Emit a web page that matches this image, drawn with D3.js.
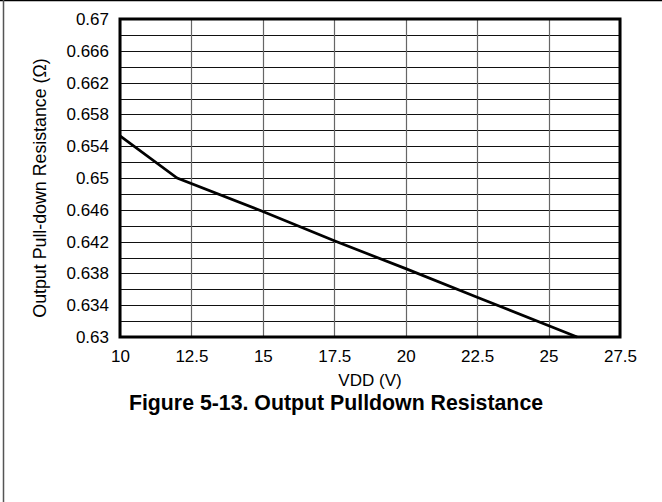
<!DOCTYPE html>
<html>
<head>
<meta charset="utf-8">
<script src="https://cdn.jsdelivr.net/npm/d3@7"></script>
<style>
  body { margin: 0; background: #fff; }
  svg { display: block; font-family: "Liberation Sans", Arial, sans-serif; }
</style>
</head>
<body>
<svg id="chart" width="662" height="502"></svg>
<script>
// Data
const vdd = [10, 12, 15, 17.5, 20, 22.5, 26];
const resistance = [0.6553, 0.65, 0.6458, 0.6421, 0.6386, 0.635, 0.63];
const xTicks = [10, 12.5, 15, 17.5, 20, 22.5, 25, 27.5];
const yTicks = [0.63, 0.634, 0.638, 0.642, 0.646, 0.65, 0.654, 0.658, 0.662, 0.666, 0.67];

const svg = d3.select('#chart');
const m = { left: 120, top: 19, right: 620, bottom: 337 };

const x = d3.scaleLinear().domain([10, 27.5]).range([m.left, m.right]);
const y = d3.scaleLinear().domain([0.63, 0.67]).range([m.bottom, m.top]);

// page frame (top and left edges only)
svg.append('line').attr('x1', 0).attr('x2', 662).attr('y1', 0.5).attr('y2', 0.5)
  .attr('stroke', '#000').attr('stroke-width', 1.5);
svg.append('line').attr('x1', 3.5).attr('x2', 3.5).attr('y1', 0).attr('y2', 502)
  .attr('stroke', '#555').attr('stroke-width', 1.5);

// horizontal grid every 0.002
const minor = d3.range(0, 21).map(i => 0.63 + i * 0.002);
svg.append('g').selectAll('line').data(minor).join('line')
  .attr('x1', m.left).attr('x2', m.right)
  .attr('y1', d => Math.round(y(d)) + 0.5).attr('y2', d => Math.round(y(d)) + 0.5)
  .attr('stroke', '#111').attr('stroke-width', 1);

// vertical grid
svg.append('g').selectAll('line').data(xTicks).join('line')
  .attr('x1', d => Math.round(x(d)) + 0.5).attr('x2', d => Math.round(x(d)) + 0.5)
  .attr('y1', m.top).attr('y2', m.bottom)
  .attr('stroke', '#666').attr('stroke-width', 1.2);

// axis labels via d3 axes, no domain/ticks lines
const xAxis = svg.append('g').attr('transform', `translate(0,${m.bottom})`)
  .call(d3.axisBottom(x).tickValues(xTicks).tickSize(0).tickPadding(13).tickFormat(d3.format('')));
const yAxis = svg.append('g').attr('transform', `translate(${m.left},0)`)
  .call(d3.axisLeft(y).tickValues(yTicks).tickSize(0).tickPadding(11).tickFormat(d => +d.toFixed(3)));
[xAxis, yAxis].forEach(a => {
  a.select('.domain').remove();
  a.selectAll('text').attr('font-size', 17).attr('fill', '#000')
    .attr('font-family', '"Liberation Sans", Arial, sans-serif');
});

// plot frame
svg.append('rect').attr('x', m.left).attr('y', m.top)
  .attr('width', m.right - m.left).attr('height', m.bottom - m.top)
  .attr('fill', 'none').attr('stroke', '#000').attr('stroke-width', 3);

// data line
const line = d3.line().x((d, i) => x(vdd[i])).y(d => y(d));
svg.append('path').datum(resistance).attr('d', line)
  .attr('fill', 'none').attr('stroke', '#000').attr('stroke-width', 2.7);

// axis titles
svg.append('text').attr('x', (m.left + m.right) / 2).attr('y', 386)
  .attr('text-anchor', 'middle').attr('font-size', 17).text('VDD (V)');
svg.append('text')
  .attr('transform', 'translate(46,188) rotate(-90)')
  .attr('text-anchor', 'middle').attr('font-size', 17.8).text('Output Pull-down Resistance (Ω)');

// figure caption
svg.append('text').attr('x', 336).attr('y', 410)
  .attr('text-anchor', 'middle').attr('font-size', 21.3).attr('font-weight', 'bold')
  .text('Figure 5-13. Output Pulldown Resistance');
</script>
</body>
</html>
